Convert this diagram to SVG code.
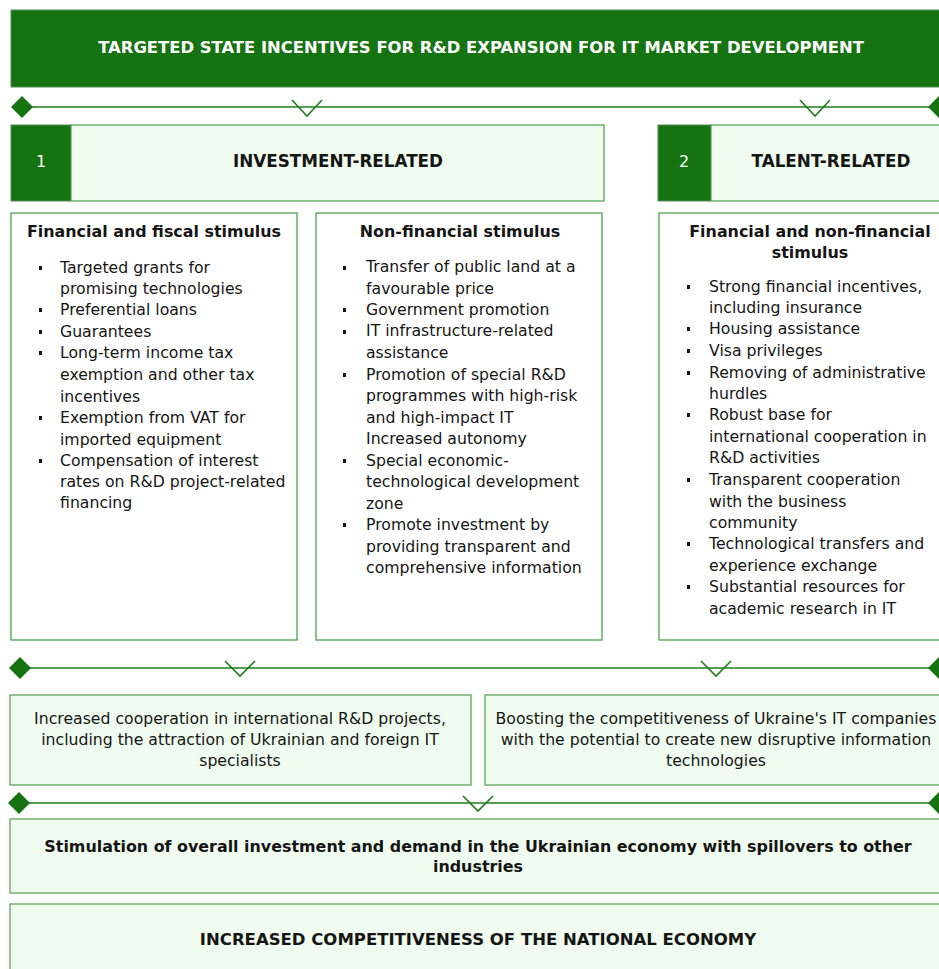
<svg xmlns="http://www.w3.org/2000/svg" width="939" height="969" viewBox="0 0 939 969">
<style>
.box{fill:#effcef;stroke:#4e9e4e;stroke-width:1.2}
.wb{fill:#ffffff;stroke:#3f9a3f;stroke-width:1.2}
.dark{fill:#157311;stroke:#5a8a5a;stroke-width:1}
.t{font-family:"DejaVu Sans",Verdana,sans-serif;font-size:15.7px;fill:#151515}
.h{font-weight:bold;font-size:15.9px}
.b{font-weight:bold}
.c{text-anchor:middle}
.w{fill:#ffffff}
.ln{stroke:#1f7f1f;stroke-width:1.6;fill:none}
.dm{fill:#157311}
.ch{stroke:#1f7f1f;stroke-width:1.6;fill:none}
</style>
<defs>
<rect id="bul" width="3" height="4" fill="#151515"/>
</defs>
<rect width="939" height="969" fill="#ffffff"/>
<g id="banner">
<rect class="dark" x="11" y="10" width="940" height="77"/>
<text class="t b c w" x="481" y="53" style="font-size:16.4px">TARGETED STATE INCENTIVES FOR R&amp;D EXPANSION FOR IT MARKET DEVELOPMENT</text>
</g>
<g id="connectors">
<line class="ln" x1="22" y1="107" x2="930" y2="107"/>
<polygon class="dm" points="11,107 22,96 33,107 22,118"/>
<polygon class="dm" points="928,107 939,96 950,107 939,118"/>
<polyline class="ch" points="292,100 307,116 322,100"/>
<polyline class="ch" points="800,100 815,116 830,100"/>
<line class="ln" x1="22" y1="668" x2="930" y2="668"/>
<polygon class="dm" points="9,668 20,657 31,668 20,679"/>
<polygon class="dm" points="928,668 939,657 950,668 939,679"/>
<polyline class="ch" points="225,661 240,676 255,661"/>
<polyline class="ch" points="701,661 716,676 731,661"/>
<line class="ln" x1="22" y1="803" x2="930" y2="803"/>
<polygon class="dm" points="8,803 19,792 30,803 19,814"/>
<polygon class="dm" points="928,803 939,792 950,803 939,814"/>
<polyline class="ch" points="463,796 478,811 493,796"/>
</g>
<g id="investment">
<rect class="dark" x="11" y="125" width="60" height="76"/>
<rect class="box" x="71" y="125" width="533" height="76"/>
<text class="t c w" x="41" y="167" style="font-size:16px">1</text>
<text class="t b c" x="338" y="167" style="font-size:16.8px">INVESTMENT-RELATED</text>
</g>
<g id="talent">
<rect class="dark" x="658" y="125" width="53" height="76"/>
<rect class="box" x="711" y="125" width="240" height="76"/>
<text class="t c w" x="684" y="167" style="font-size:16px">2</text>
<text class="t b c" x="831" y="167" style="font-size:16.8px">TALENT-RELATED</text>
</g>
<g id="fiscal">
<rect class="wb" x="11" y="213" width="286" height="427"/>
<text class="t h c" x="154" y="237">Financial and fiscal stimulus</text>
<use href="#bul" x="39" y="266"/>
<use href="#bul" x="39" y="308"/>
<use href="#bul" x="39" y="330"/>
<use href="#bul" x="39" y="351"/>
<use href="#bul" x="39" y="416"/>
<use href="#bul" x="39" y="459"/>
<text class="t" x="60" y="273">Targeted grants for</text>
<text class="t" x="60" y="294">promising technologies</text>
<text class="t" x="60" y="315">Preferential loans</text>
<text class="t" x="60" y="337">Guarantees</text>
<text class="t" x="60" y="358">Long-term income tax</text>
<text class="t" x="60" y="380">exemption and other tax</text>
<text class="t" x="60" y="402">incentives</text>
<text class="t" x="60" y="423">Exemption from VAT for</text>
<text class="t" x="60" y="445">imported equipment</text>
<text class="t" x="60" y="466">Compensation of interest</text>
<text class="t" x="60" y="487">rates on R&amp;D project-related</text>
<text class="t" x="60" y="508">financing</text>
</g>
<g id="nonfinancial">
<rect class="wb" x="316" y="213" width="286" height="427"/>
<text class="t h c" x="460" y="237">Non-financial stimulus</text>
<use href="#bul" x="343" y="266"/>
<use href="#bul" x="343" y="308"/>
<use href="#bul" x="343" y="330"/>
<use href="#bul" x="343" y="373"/>
<use href="#bul" x="343" y="459"/>
<use href="#bul" x="343" y="523"/>
<text class="t" x="366" y="272">Transfer of public land at a</text>
<text class="t" x="366" y="294">favourable price</text>
<text class="t" x="366" y="315">Government promotion</text>
<text class="t" x="366" y="336">IT infrastructure-related</text>
<text class="t" x="366" y="358">assistance</text>
<text class="t" x="366" y="380">Promotion of special R&amp;D</text>
<text class="t" x="366" y="401">programmes with high-risk</text>
<text class="t" x="366" y="423">and high-impact IT</text>
<text class="t" x="366" y="444">Increased autonomy</text>
<text class="t" x="366" y="466">Special economic-</text>
<text class="t" x="366" y="487">technological development</text>
<text class="t" x="366" y="509">zone</text>
<text class="t" x="366" y="530">Promote investment by</text>
<text class="t" x="366" y="552">providing transparent and</text>
<text class="t" x="366" y="573">comprehensive information</text>
</g>
<g id="talentstim">
<rect class="wb" x="659" y="213" width="292" height="427"/>
<text class="t h c" x="810" y="237">Financial and non-financial</text>
<text class="t h c" x="810" y="258">stimulus</text>
<use href="#bul" x="687" y="285"/>
<use href="#bul" x="687" y="327"/>
<use href="#bul" x="687" y="349"/>
<use href="#bul" x="687" y="371"/>
<use href="#bul" x="687" y="413"/>
<use href="#bul" x="687" y="478"/>
<use href="#bul" x="687" y="542"/>
<use href="#bul" x="687" y="585"/>
<text class="t" x="709" y="292">Strong financial incentives,</text>
<text class="t" x="709" y="313">including insurance</text>
<text class="t" x="709" y="334">Housing assistance</text>
<text class="t" x="709" y="356">Visa privileges</text>
<text class="t" x="709" y="378">Removing of administrative</text>
<text class="t" x="709" y="399">hurdles</text>
<text class="t" x="709" y="420">Robust base for</text>
<text class="t" x="709" y="442">international cooperation in</text>
<text class="t" x="709" y="463">R&amp;D activities</text>
<text class="t" x="709" y="485">Transparent cooperation</text>
<text class="t" x="709" y="507">with the business</text>
<text class="t" x="709" y="528">community</text>
<text class="t" x="709" y="549">Technological transfers and</text>
<text class="t" x="709" y="571">experience exchange</text>
<text class="t" x="709" y="592">Substantial resources for</text>
<text class="t" x="709" y="614">academic research in IT</text>
</g>
<g id="cooperation">
<rect class="box" x="10" y="695" width="461" height="90"/>
<text class="t c" x="240" y="724">Increased cooperation in international R&amp;D projects,</text>
<text class="t c" x="240" y="745">including the attraction of Ukrainian and foreign IT</text>
<text class="t c" x="240" y="766">specialists</text>
</g>
<g id="boosting">
<rect class="box" x="485" y="695" width="466" height="90"/>
<text class="t c" x="716" y="724">Boosting the competitiveness of Ukraine's IT companies</text>
<text class="t c" x="716" y="745">with the potential to create new disruptive information</text>
<text class="t c" x="716" y="766">technologies</text>
</g>
<g id="stimulation">
<rect class="box" x="10" y="819" width="941" height="74"/>
<text class="t h c" x="478" y="852">Stimulation of overall investment and demand in the Ukrainian economy with spillovers to other</text>
<text class="t h c" x="478" y="872">industries</text>
</g>
<g id="competitiveness">
<rect class="box" x="10" y="904" width="941" height="80"/>
<text class="t b c" x="478" y="945" style="font-size:16.5px">INCREASED COMPETITIVENESS OF THE NATIONAL ECONOMY</text>
</g>
</svg>
